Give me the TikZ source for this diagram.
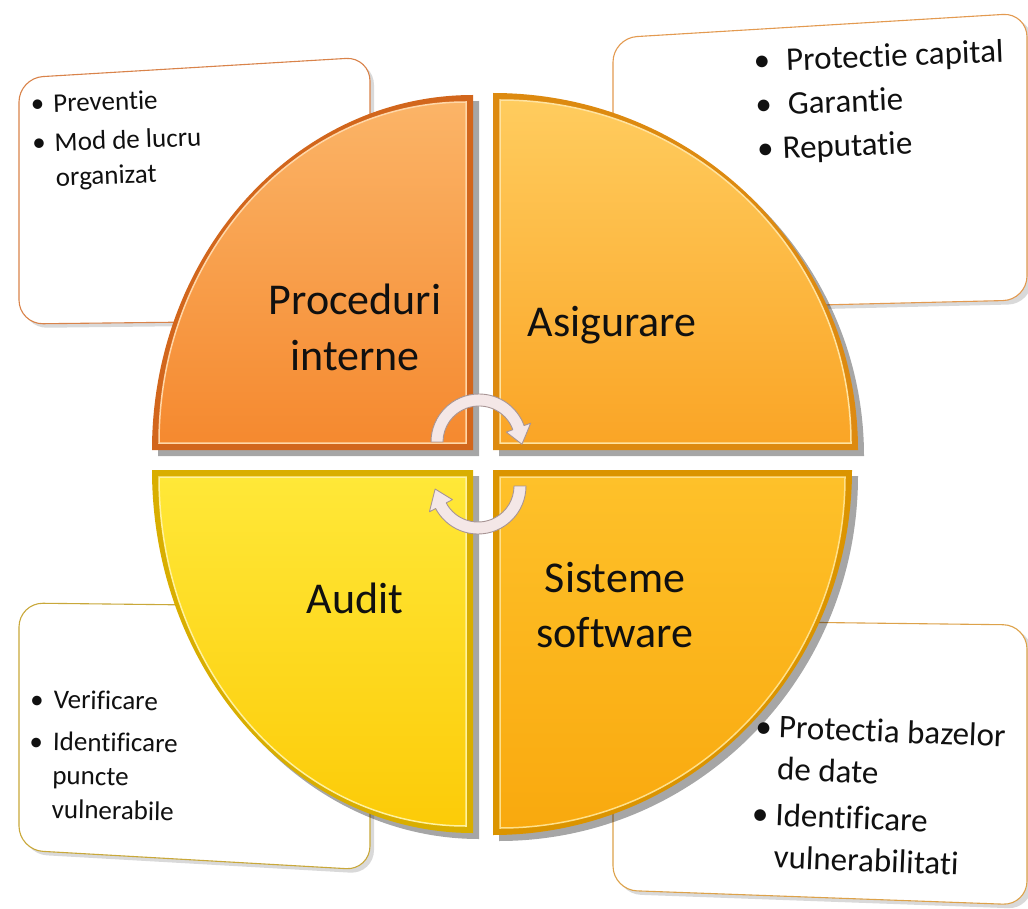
\documentclass[tikz,border=0pt]{standalone}
\usepackage{fontspec}
\setmainfont{Carlito}[Ligatures=NoCommon]
\definecolor{txt}{HTML}{101010}
\definecolor{TLedge}{HTML}{D2661C}\definecolor{TLtop}{HTML}{FBB467}\definecolor{TLbot}{HTML}{F5892F}\definecolor{TLhi}{HTML}{FFD7A8}
\definecolor{TRedge}{HTML}{DD8A10}\definecolor{TRtop}{HTML}{FFCC5E}\definecolor{TRbot}{HTML}{FAA526}\definecolor{TRhi}{HTML}{FFE3A0}
\definecolor{BLedge}{HTML}{D9AE00}\definecolor{BLtop}{HTML}{FFE838}\definecolor{BLbot}{HTML}{FCCB08}\definecolor{BLhi}{HTML}{FFF2A0}
\definecolor{BRedge}{HTML}{DB9400}\definecolor{BRtop}{HTML}{FEC12A}\definecolor{BRbot}{HTML}{F9A90E}\definecolor{BRhi}{HTML}{FFE08A}
\definecolor{arrowfill}{HTML}{F4E7E7}\definecolor{arrowline}{HTML}{A89595}
\definecolor{TLbox}{HTML}{D9834A}\definecolor{TRbox}{HTML}{E39A50}\definecolor{BLbox}{HTML}{C9A83A}\definecolor{BRbox}{HTML}{DDA24A}
\begin{document}
\begin{tikzpicture}[x=1pt,y=1pt,
  box/.style={rounded corners=24pt, fill=white, line width=1.1pt},
  boxshadow/.style={rounded corners=24pt, fill=black, opacity=0.15},
  qshadow/.style={fill=black, opacity=0.35},
  hiline/.style={line width=1.5pt},
  qlabel/.style={font=\fontsize{44}{55}\selectfont, text=txt, inner sep=0pt},
  lst/.style={text=txt, inner sep=0pt, anchor=base west},
  cyc/.style={fill=arrowfill, draw=arrowline, line width=0.9pt, line join=round}
]
\useasboundingbox (0,0) rectangle (1028,-909);
\fill[white] (0,0) rectangle (1028,-909);

% ---------- side boxes ----------
\fill[boxshadow] (23,-82) -- (374,-61) -- (374,-324) -- (23,-328) -- cycle;
\draw[box, draw=TLbox] (19,-78) -- (370,-57) -- (370,-320) -- (19,-324) -- cycle;
\fill[boxshadow] (617,-42) -- (1032,-17) -- (1032,-304) -- (617,-314) -- cycle;
\draw[box, draw=TRbox] (613,-38) -- (1027,-13) -- (1027,-300) -- (613,-310) -- cycle;
\fill[boxshadow] (23,-607) -- (374,-611) -- (374,-874) -- (23,-854) -- cycle;
\draw[box, draw=BLbox] (19,-603) -- (370,-607) -- (370,-870) -- (19,-850) -- cycle;
\fill[boxshadow] (617,-624) -- (1032,-629) -- (1032,-909) -- (617,-894) -- cycle;
\draw[box, draw=BRbox] (613,-620) -- (1027,-625) -- (1027,-905) -- (613,-890) -- cycle;

% ---------- quadrants ----------
% top left
\fill[qshadow] (479,-456) -- (158,-456) arc[start angle=180,end angle=90,x radius=321,y radius=355] -- cycle;
\fill[TLedge] (473,-450) -- (152,-450) arc[start angle=180,end angle=90,x radius=321,y radius=355] -- cycle;
\shade[top color=TLtop,bottom color=TLbot] (466,-443) -- (159,-443) arc[start angle=180,end angle=90,x radius=307,y radius=341] -- cycle;
\draw[hiline, TLhi] (466,-443) -- (159,-443) arc[start angle=180,end angle=90,x radius=307,y radius=341] -- cycle;
% top right
\fill[qshadow] (499,-456) -- (499,-99) arc[start angle=90,end angle=0,x radius=365,y radius=357] -- cycle;
\fill[TRedge] (493,-450) -- (493,-93) arc[start angle=90,end angle=0,x radius=365,y radius=357] -- cycle;
\shade[top color=TRtop,bottom color=TRbot] (500,-443) -- (500,-100) arc[start angle=90,end angle=0,x radius=351,y radius=343] -- cycle;
\draw[hiline, TRhi] (500,-443) -- (500,-100) arc[start angle=90,end angle=0,x radius=351,y radius=343] -- cycle;
% bottom left
\fill[qshadow] (479,-476) -- (158,-476) arc[start angle=180,end angle=270,x radius=321,y radius=363] -- cycle;
\fill[BLedge] (473,-470) -- (152,-470) arc[start angle=180,end angle=270,x radius=321,y radius=363] -- cycle;
\shade[top color=BLtop,bottom color=BLbot] (466,-477) -- (159,-477) arc[start angle=180,end angle=270,x radius=307,y radius=349] -- cycle;
\draw[hiline, BLhi] (466,-477) -- (159,-477) arc[start angle=180,end angle=270,x radius=307,y radius=349] -- cycle;
% bottom right
\fill[qshadow] (499,-476) -- (858,-476) arc[start angle=0,end angle=-90,x radius=359,y radius=365] -- cycle;
\fill[BRedge] (493,-470) -- (852,-470) arc[start angle=0,end angle=-90,x radius=359,y radius=365] -- cycle;
\shade[top color=BRtop,bottom color=BRbot] (500,-477) -- (845,-477) arc[start angle=0,end angle=-90,x radius=345,y radius=351] -- cycle;
\draw[hiline, BRhi] (500,-477) -- (845,-477) arc[start angle=0,end angle=-90,x radius=345,y radius=351] -- cycle;

% ---------- cycle arrows ----------
\draw[cyc, shift={(479,-442)}] (180:48) arc[start angle=180,end angle=20,radius=48] -- (20:55) -- (-3:43) -- (20:29) -- (20:36) arc[start angle=20,end angle=180,radius=36] -- cycle;
\draw[cyc, shift={(478,-486)}] (0:48) arc[start angle=0,end angle=-152,radius=48] -- (-152:55) -- (-176:43) -- (-152:29) -- (-152:36) arc[start angle=-152,end angle=0,radius=36] -- cycle;

% ---------- quadrant labels ----------
\node[qlabel, anchor=base] (q1) at (355,-315) {\begin{tabular}[t]{@{}c@{}}Proceduri\\interne\end{tabular}};
\node[qlabel, anchor=base] (q2) at (612,-336) {Asigurare};
\node[qlabel, anchor=base] (q3) at (355,-613) {Audit};
\node[qlabel, anchor=base] (q4) at (615,-592) {\begin{tabular}[t]{@{}c@{}}Sisteme\\software\end{tabular}};

% ---------- box texts ----------
\node[lst, font=\fontsize{27}{35}\selectfont, rotate=2] (tl) at (31,-113)
  {\begin{tabular}[t]{@{}l@{\hspace{9pt}}l@{}}\textbullet & Preventie\\[4pt] \textbullet & Mod de lucru\\ & organizat\end{tabular}};
\node[lst, font=\fontsize{33}{44}\selectfont, rotate=2.3] (tr) at (754,-72)
  {\begin{tabular}[t]{@{}l@{\hspace{9pt}}l@{}}\textbullet & \hspace{7pt}Protectie capital\\ \textbullet & \hspace{7pt}Garantie\\ \textbullet & Reputatie\end{tabular}};
\node[lst, font=\fontsize{27}{34}\selectfont, rotate=-1] (bl) at (30,-708)
  {\begin{tabular}[t]{@{}l@{\hspace{10pt}}l@{}}\textbullet & Verificare\\[8pt] \textbullet & Identificare\\ & puncte\\ & vulnerabile\end{tabular}};
\node[lst, font=\fontsize{33}{42}\selectfont, rotate=-2.3] (br) at (755,-737)
  {\begin{tabular}[t]{@{}l@{\hspace{7pt}}l@{}}\textbullet & Protectia bazelor\\ & de date\\[4pt] \textbullet & Identificare\\ & vulnerabilitati\end{tabular}};
\end{tikzpicture}
\end{document}
